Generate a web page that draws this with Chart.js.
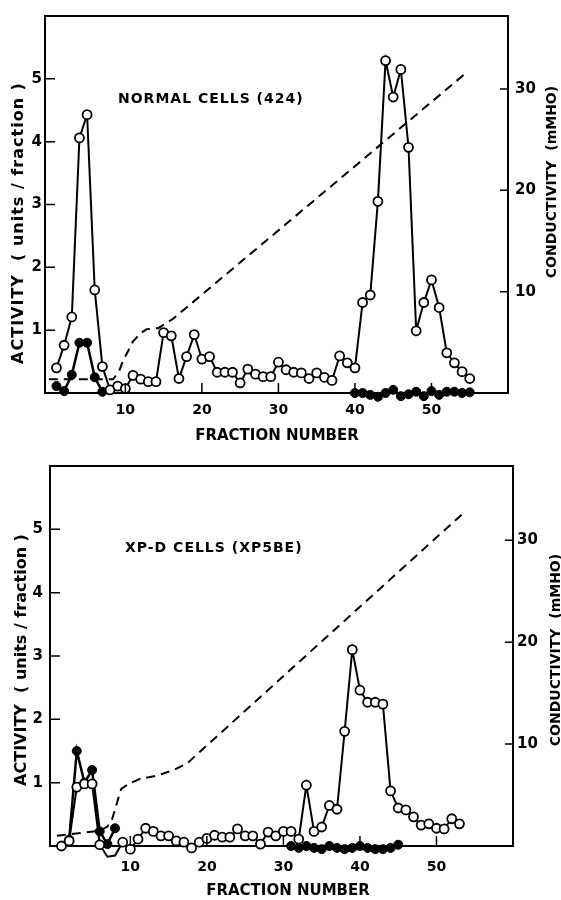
<!DOCTYPE html>
<html lang="en">
<head>
<meta charset="UTF-8">
<title>Fraction activity profiles</title>
<script src="https://cdn.jsdelivr.net/npm/chart.js@4.4.1/dist/chart.umd.min.js"></script>
<style>
  * { margin: 0; padding: 0; box-sizing: border-box; }
  body { background: #fff; width: 561px; height: 900px; overflow: hidden; }
  .panel { width: 561px; height: 450px; }
  canvas { display: block; }
</style>
</head>
<body>
<div class="panel"><canvas id="normalChart" width="561" height="450"></canvas></div>
<div class="panel"><canvas id="xpdChart" width="561" height="450"></canvas></div>

<script>
// ---- values ----
const activityTicks = [1, 2, 3, 4, 5];
const conductTicks = [10, 20, 30];
const fractionTicks = [10, 20, 30, 40, 50];

// Normal cells (424)
const normalOpenFrac = [1, 2, 3, 4, 5, 6, 7, 8, 9, 10, 11, 12, 13, 14, 15, 16, 17, 18, 19, 20,
  21, 22, 23, 24, 25, 26, 27, 28, 29, 30, 31, 32, 33, 34, 35, 36, 37, 38, 39, 40,
  41, 42, 43, 44, 45, 46, 47, 48, 49, 50, 51, 52, 53, 54, 55];
const normalOpenVal = [0.40, 0.76, 1.21, 4.06, 4.43, 1.64, 0.42, 0.05, 0.11, 0.07,
  0.28, 0.22, 0.18, 0.18, 0.96, 0.91, 0.23, 0.58, 0.93, 0.54,
  0.58, 0.33, 0.33, 0.33, 0.16, 0.38, 0.30, 0.26, 0.26, 0.49,
  0.37, 0.33, 0.32, 0.23, 0.32, 0.25, 0.20, 0.59, 0.48, 0.40,
  1.44, 1.56, 3.05, 5.29, 4.71, 5.15, 3.91, 0.99, 1.44, 1.80,
  1.36, 0.64, 0.48, 0.34, 0.23];
const normalFilledFrac = [1, 2, 3, 4, 5, 6, 7,
  40, 41, 42, 43, 44, 45, 46, 47, 48, 49, 50, 51, 52, 53, 54, 55];
const normalFilledVal = [0.11, 0.03, 0.29, 0.80, 0.80, 0.25, 0.02,
  0.00, 0.00, -0.03, -0.06, 0.00, 0.05, -0.05, -0.02, 0.02, -0.05, 0.03, -0.03, 0.02, 0.02, 0.00, 0.01];
const normalCondFrac = [0, 8.4, 9.2, 9.7, 10.4, 11, 12, 12.8, 14.3, 16.2, 54.7];
const normalCondVal = [1.35, 1.35, 2.2, 3.2, 4.2, 5.1, 5.9, 6.3, 6.4, 7.3, 31.7];

// XP-D cells (XP5BE)
const xpdOpenFrac = [1, 2, 3, 4, 5, 6, 7, 8, 9, 10, 11, 12, 13, 14, 15, 16, 17, 18, 19, 20,
  21, 22, 23, 24, 25, 26, 27, 28, 29, 30, 31, 32, 33, 34, 35, 36, 37, 38, 39, 40,
  41, 42, 43, 44, 45, 46, 47, 48, 49, 50, 51, 52, 53];
const xpdOpenVal = [0.00, 0.08, 0.93, 0.98, 0.98, 0.02, -0.17, -0.15, 0.06, -0.05,
  0.11, 0.28, 0.23, 0.16, 0.16, 0.08, 0.06, -0.03, 0.06, 0.12,
  0.17, 0.14, 0.14, 0.27, 0.16, 0.16, 0.03, 0.22, 0.16, 0.23,
  0.23, 0.11, 0.96, 0.23, 0.30, 0.64, 0.58, 1.81, 3.10, 2.46,
  2.27, 2.27, 2.24, 0.87, 0.60, 0.57, 0.46, 0.33, 0.35, 0.28,
  0.27, 0.43, 0.35];
const xpdFilledFrac = [2, 3, 4, 5, 6, 7, 8,
  31, 32, 33, 34, 35, 36, 37, 38, 39, 40, 41, 42, 43, 44, 45];
const xpdFilledVal = [0.10, 1.50, 1.00, 1.20, 0.23, 0.03, 0.28,
  0.00, -0.03, 0.00, -0.03, -0.05, 0.00, -0.03, -0.05, -0.03, 0.00, -0.03, -0.05, -0.05, -0.03, 0.02];
const xpdCondFrac = [0.4, 6, 7, 7.6, 8, 8.8, 9.8, 11.3, 13.5, 15.8, 17.4, 53.4];
const xpdCondVal = [1.0, 1.5, 1.9, 2.6, 3.6, 5.6, 6.1, 6.6, 6.9, 7.5, 8.1, 32.6];

const FONT = '"DejaVu Sans", "Liberation Sans", sans-serif';

// pair up fractions and values; with breakGaps the line stops where fractions jump
function toPoints(frac, vals, breakGaps) {
  const pts = [];
  frac.forEach((f, i) => {
    if (breakGaps && i > 0 && f - frac[i - 1] > 1) pts.push({ x: (f + frac[i - 1]) / 2, y: null });
    pts.push({ x: f, y: vals[i] });
  });
  return pts;
}

// box top line, inward tick marks, axis titles and panel label
const framePlugin = {
  id: 'frame',
  afterDraw(chart, args, o) {
    const { ctx, chartArea: a, scales } = chart;
    ctx.save();
    ctx.strokeStyle = '#000';
    ctx.fillStyle = '#000';
    ctx.lineWidth = 2;
    ctx.beginPath();
    ctx.moveTo(a.left - 1, a.top);
    ctx.lineTo(a.right + 1, a.top);
    ctx.stroke();

    ctx.lineWidth = 1.5;
    ctx.beginPath();
    scales.x.ticks.forEach(t => {
      const px = scales.x.getPixelForValue(t.value);
      ctx.moveTo(px, a.bottom);
      ctx.lineTo(px, a.bottom - 10);
    });
    scales.y.ticks.forEach(t => {
      const py = scales.y.getPixelForValue(t.value);
      ctx.moveTo(a.left, py);
      ctx.lineTo(a.left + 10, py);
    });
    scales.y2.ticks.forEach(t => {
      const py = scales.y2.getPixelForValue(t.value);
      ctx.moveTo(a.right, py);
      ctx.lineTo(a.right - 8, py);
    });
    ctx.stroke();

    ctx.textAlign = 'center';
    ctx.textBaseline = 'middle';

    ctx.save();
    ctx.font = 'bold 16px ' + FONT;
    ctx.letterSpacing = o.leftSpacing;
    ctx.translate(o.leftTitle[0], o.leftTitle[1]);
    ctx.rotate(-Math.PI / 2);
    ctx.fillText('ACTIVITY  ( units / fraction )', 0, 0);
    ctx.restore();

    ctx.save();
    ctx.font = 'bold 14px ' + FONT;
    ctx.translate(o.rightTitle[0], o.rightTitle[1]);
    ctx.rotate(-Math.PI / 2);
    ctx.fillText('CONDUCTIVITY  (mMHO)', 0, 0);
    ctx.restore();

    ctx.font = 'bold 15px ' + FONT;
    ctx.fillText('FRACTION NUMBER', o.xTitle[0], o.xTitle[1]);

    ctx.textAlign = 'left';
    ctx.font = 'bold 14px ' + FONT;
    ctx.letterSpacing = '1px';
    ctx.fillText(o.label, o.labelPos[0], o.labelPos[1]);
    ctx.restore();
  }
};

function makePanel(id, p) {
  const ctx = document.getElementById(id).getContext('2d');
  return new Chart(ctx, {
    type: 'line',
    data: {
      datasets: [
        {
          data: toPoints(p.openFrac, p.openVal, true),
          yAxisID: 'y',
          borderColor: '#000',
          borderWidth: 2,
          pointRadius: 4.5,
          pointBorderWidth: 1.8,
          pointBackgroundColor: '#fff',
          pointBorderColor: '#000',
          clip: false,
          order: 1
        },
        {
          data: toPoints(p.filledFrac, p.filledVal, true),
          yAxisID: 'y',
          borderColor: '#000',
          borderWidth: 2.5,
          pointRadius: 4.5,
          pointBorderWidth: 1,
          pointBackgroundColor: '#000',
          pointBorderColor: '#000',
          spanGaps: false,
          clip: false,
          order: 2
        },
        {
          data: toPoints(p.condFrac, p.condVal, false),
          yAxisID: 'y2',
          borderColor: '#000',
          borderWidth: 2,
          borderDash: [9, 6],
          pointRadius: 0,
          tension: 0,
          borderJoinStyle: 'round',
          clip: false,
          order: 3
        }
      ]
    },
    options: {
      responsive: false,
      animation: false,
      events: [],
      layout: { padding: { top: p.top, left: 0, right: 0, bottom: 0 } },
      plugins: {
        legend: { display: false },
        tooltip: { enabled: false },
        frame: p.frame
      },
      scales: {
        x: {
          type: 'linear',
          min: -0.5,
          max: 60,
          grid: { display: false, drawTicks: false },
          border: { display: true, color: '#000', width: 2 },
          afterBuildTicks: s => { s.ticks = fractionTicks.map(v => ({ value: v })); },
          afterFit: s => { s.height = p.xHeight; },
          ticks: {
            color: '#000',
            padding: p.xPad,
            maxRotation: 0,
            font: { family: FONT, size: 14, weight: 'bold' }
          }
        },
        y: {
          type: 'linear',
          position: 'left',
          min: 0,
          max: 6,
          grid: { display: false, drawTicks: false },
          border: { display: true, color: '#000', width: 2 },
          afterBuildTicks: s => { s.ticks = activityTicks.map(v => ({ value: v })); },
          afterFit: s => { s.width = p.leftWidth; },
          ticks: {
            color: '#000',
            padding: p.yPad,
            font: { family: FONT, size: 15, weight: 'bold' }
          }
        },
        y2: {
          type: 'linear',
          position: 'right',
          min: 0,
          max: p.condMax,
          grid: { display: false, drawTicks: false },
          border: { display: true, color: '#000', width: 2 },
          afterBuildTicks: s => { s.ticks = conductTicks.map(v => ({ value: v })); },
          afterFit: s => { s.width = p.rightWidth; },
          ticks: {
            color: '#000',
            padding: p.y2Pad,
            font: { family: FONT, size: 15, weight: 'bold' }
          }
        }
      }
    },
    plugins: [framePlugin]
  });
}

makePanel('normalChart', {
  openFrac: normalOpenFrac, openVal: normalOpenVal,
  filledFrac: normalFilledFrac, filledVal: normalFilledVal,
  condFrac: normalCondFrac, condVal: normalCondVal,
  top: 8, xHeight: 57, leftWidth: 45, rightWidth: 53,
  xPad: 9, yPad: 3, y2Pad: 7, condMax: 37.2,
  frame: {
    leftTitle: [19, 223], leftSpacing: '1px',
    rightTitle: [552, 182],
    xTitle: [277, 436],
    label: 'NORMAL CELLS (424)', labelPos: [118, 99]
  }
});

makePanel('xpdChart', {
  openFrac: xpdOpenFrac, openVal: xpdOpenVal,
  filledFrac: xpdFilledFrac, filledVal: xpdFilledVal,
  condFrac: xpdCondFrac, condVal: xpdCondVal,
  top: 15, xHeight: 54, leftWidth: 50, rightWidth: 48,
  xPad: 13, yPad: 7, y2Pad: 4, condMax: 37.3,
  frame: {
    leftTitle: [22, 210], leftSpacing: '0px',
    rightTitle: [556, 200],
    xTitle: [288, 441],
    label: 'XP-D CELLS (XP5BE)', labelPos: [125, 98]
  }
});
</script>
</body>
</html>
